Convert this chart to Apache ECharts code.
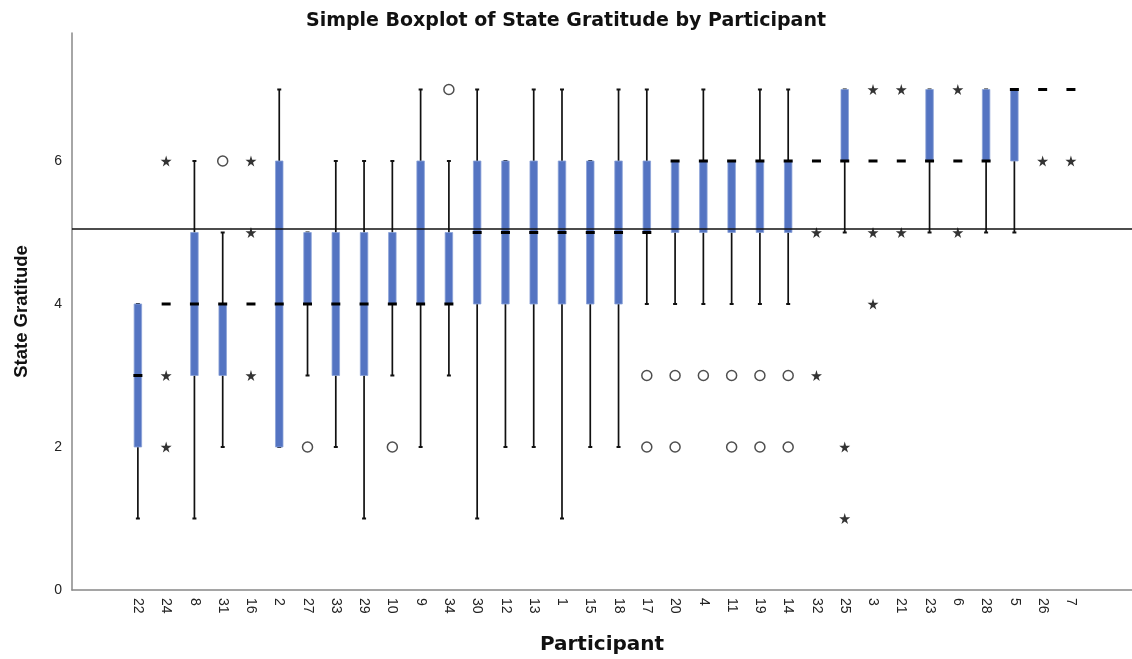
<!DOCTYPE html>
<html>
<head>
<meta charset="utf-8">
<script src="https://cdn.jsdelivr.net/npm/echarts@6/dist/echarts.min.js"></script>
<style>
html,body{margin:0;padding:0;background:#fff;}
#chart{width:1132px;height:659px;}
</style>
</head>
<body>
<div id="chart"></div>
<script>
// Participants in plotted order
var categories = ['22','24','8','31','16','2','27','33','29','10','9','34','30','12','13','1','15','18','17','20','4','11','19','14','32','25','3','21','23','6','28','5','26','7'];
// Five-number summaries per participant
var whiskerLow  = [1,4,1,2,4,2,3,2,1,3,2,3,1,2,2,1,2,2,4,4,4,4,4,4,6,5,6,6,5,6,5,5,7,7];
var quartile1   = [2,4,3,3,4,2,4,3,3,4,4,4,4,4,4,4,4,4,5,5,5,5,5,5,6,6,6,6,6,6,6,6,7,7];
var medians     = [3,4,4,4,4,4,4,4,4,4,4,4,5,5,5,5,5,5,5,6,6,6,6,6,6,6,6,6,6,6,6,7,7,7];
var quartile3   = [4,4,5,4,4,6,5,5,5,5,6,5,6,6,6,6,6,6,6,6,6,6,6,6,6,7,6,6,7,6,7,7,7,7];
var whiskerHigh = [4,4,6,5,4,7,5,6,6,6,7,6,7,6,7,7,6,7,7,6,7,6,7,7,6,7,6,6,7,6,7,7,7,7];
// Outliers: [participant, value]
var circleOutliers = [['31',6],['27',2],['10',2],['34',7],['17',3],['17',2],['20',3],['20',2],['4',3],['11',3],['11',2],['19',3],['19',2],['14',3],['14',2]];
var starOutliers = [['24',6],['24',3],['24',2],['16',6],['16',5],['16',3],['32',5],['32',3],['25',2],['25',1],['3',7],['3',5],['3',4],['21',7],['21',5],['6',7],['6',5],['26',6],['7',6]];
var yTickValues = [0,2,4,6];
var meanLine = 5.05;

var boxData = categories.map(function(c, i){
  return [i, whiskerLow[i], quartile1[i], medians[i], quartile3[i], whiskerHigh[i]];
});
function toPts(list){
  return list.map(function(o){ return [categories.indexOf(o[0]), o[1]]; });
}
var starPath = 'path://M50,0 L61,35 L98,35 L68,57 L79,91 L50,70 L21,91 L32,57 L2,35 L39,35 Z';

var chart = echarts.init(document.getElementById('chart'), null, {renderer:'canvas'});
chart.setOption({
  animation:false,
  backgroundColor:'#fff',
  title:{
    text:'Simple Boxplot of State Gratitude by Participant',
    left:'center', top:7,
    textStyle:{fontFamily:'DejaVu Sans, sans-serif', fontSize:19, fontWeight:'bold', color:'#111'}
  },
  grid:{left:72, right:0, top:33, bottom:69, outerBoundsMode:'none', containLabel:false},
  xAxis:{
    type:'value', min:-2.33, max:35.16,
    name:'Participant', nameLocation:'middle', nameGap:45,
    nameTextStyle:{fontFamily:'DejaVu Sans, sans-serif', fontSize:20, fontWeight:'bold', color:'#111'},
    splitLine:{show:false},
    axisTick:{show:false},
    axisLine:{show:true, onZero:false, lineStyle:{color:'#888', width:1.5}},
    axisLabel:{
      customValues: categories.map(function(c,i){return i;}),
      rotate:-90, margin:8,
      fontFamily:'Liberation Sans, Arial, sans-serif', fontSize:14, color:'#222',
      formatter:function(v){ return categories[Math.round(v)]; }
    }
  },
  yAxis:{
    type:'value', min:0, max:7.79,
    name:'State Gratitude', nameLocation:'middle', nameGap:41,
    nameTextStyle:{fontFamily:'Liberation Sans, Arial, sans-serif', fontSize:18.5, fontWeight:'bold', color:'#111'},
    splitLine:{show:false},
    axisTick:{show:false},
    axisLine:{show:true, onZero:false, lineStyle:{color:'#888', width:1.5}},
    axisLabel:{
      customValues: yTickValues, margin:10,
      fontFamily:'Liberation Sans, Arial, sans-serif', fontSize:14, color:'#222'
    }
  },
  series:[
    {
      type:'custom',
      data: boxData,
      encode:{x:0, y:[1,2,3,4,5]},
      silent:true,
      renderItem:function(params, api){
        var x = api.value(0);
        var pLow = api.coord([x, api.value(1)]);
        var pQ1 = api.coord([x, api.value(2)]);
        var pMed = api.coord([x, api.value(3)]);
        var pQ3 = api.coord([x, api.value(4)]);
        var pHigh = api.coord([x, api.value(5)]);
        var cx = pLow[0];
        var boxW = 7.5, medW = 9, capW = 4;
        var children = [];
        if (pHigh[1] < pLow[1]) {
          children.push({type:'line', shape:{x1:cx, y1:pLow[1], x2:cx, y2:pHigh[1]}, style:{stroke:'#111', lineWidth:1.7}});
          children.push({type:'line', shape:{x1:cx-capW/2, y1:pLow[1], x2:cx+capW/2, y2:pLow[1]}, style:{stroke:'#111', lineWidth:2}});
          children.push({type:'line', shape:{x1:cx-capW/2, y1:pHigh[1], x2:cx+capW/2, y2:pHigh[1]}, style:{stroke:'#111', lineWidth:2}});
        }
        if (pQ3[1] < pQ1[1]) {
          children.push({type:'rect', shape:{x:cx-boxW/2, y:pQ3[1], width:boxW, height:pQ1[1]-pQ3[1]}, style:{fill:'#5474c2', stroke:'#8aa2d8', lineWidth:0.8}});
        }
        children.push({type:'line', shape:{x1:cx-medW/2, y1:pMed[1], x2:cx+medW/2, y2:pMed[1]}, style:{stroke:'#000', lineWidth:3}});
        return {type:'group', children:children};
      },
      z:2
    },
    {
      type:'scatter',
      data: toPts(circleOutliers),
      symbol:'circle', symbolSize:10,
      itemStyle:{color:'rgba(0,0,0,0)', borderColor:'#222', borderWidth:1.5},
      silent:true, z:3,
      markLine:{
        silent:true, symbol:['none','none'],
        label:{show:false},
        lineStyle:{color:'#111', width:1.5, type:'solid'},
        data:[{yAxis: meanLine}]
      }
    },
    {
      type:'scatter',
      data: toPts(starOutliers),
      symbol: starPath, symbolSize:11,
      itemStyle:{color:'#000'},
      silent:true, z:3
    }
  ]
});
</script>
</body>
</html>
